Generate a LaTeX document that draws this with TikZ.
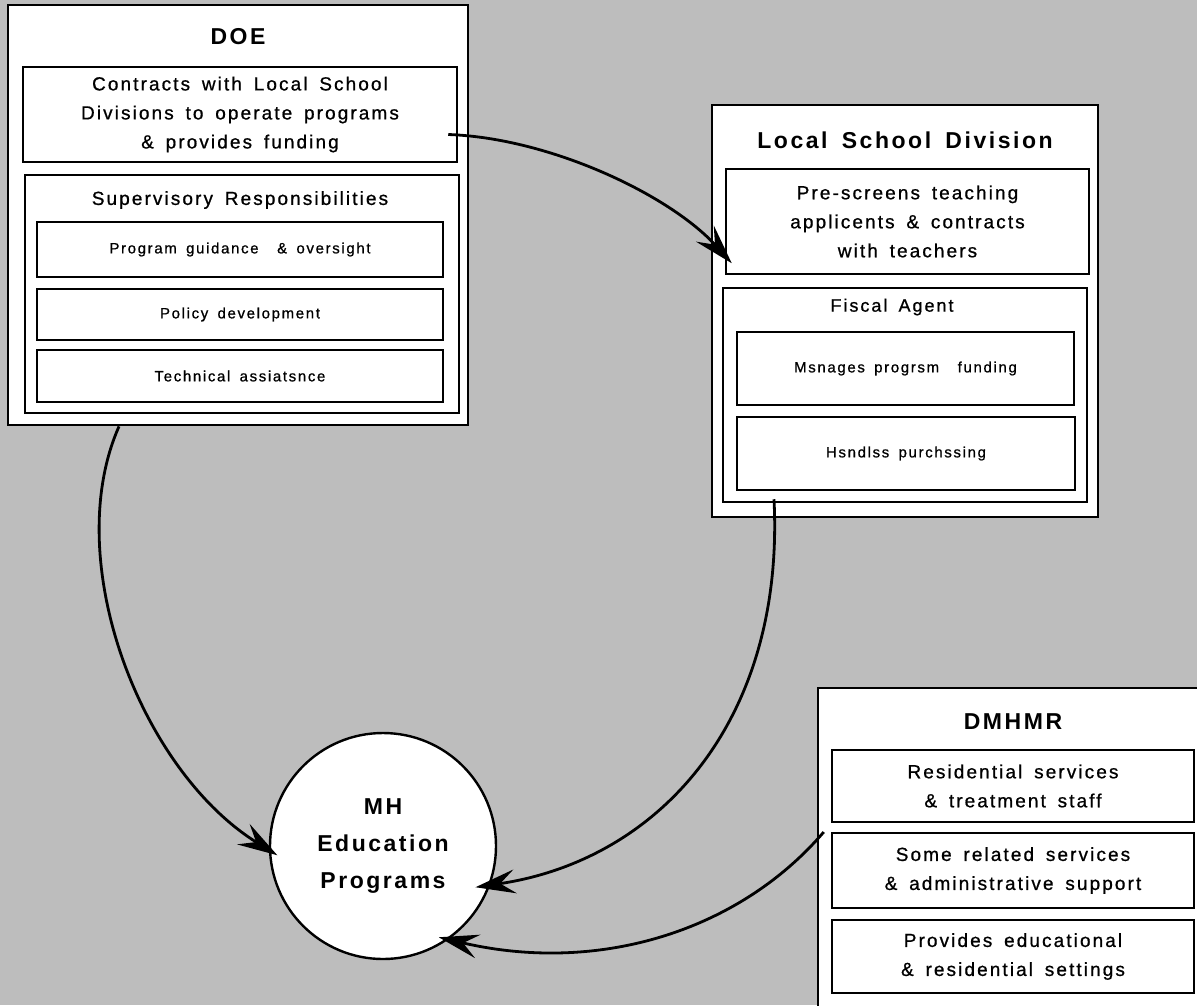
\documentclass[tikz,border=0pt]{standalone}
\usepackage{fontspec}
\setmainfont{Liberation Sans}[LetterSpace=11,WordSpace=1.6,UprightFeatures={FakeBold=0.8}]
\usetikzlibrary{arrows.meta}
\definecolor{halftone}{gray}{0.74}
\begin{document}
\begin{tikzpicture}[x=1pt,y=-1pt,
  box/.style={draw, fill=white, line width=2.5pt, inner sep=0pt, align=center},
  outer/.style={box, line width=2.8pt},
  ttl/.style={font=\bfseries\fontsize{23}{26}\selectfont, inner sep=0pt},
  mid/.style={font=\fontsize{19}{29}\selectfont},
  fisc/.style={font=\fontsize{18}{22}\selectfont, inner sep=0pt},
  sm/.style={font=\fontsize{15}{18}\selectfont},
  conn/.style={line width=2.8pt, -{Stealth[length=40pt,width=24pt,inset=15pt]}},
]
\fill[halftone] (0,0) rectangle (1197,1005);
\useasboundingbox (0,0) rectangle (1197,1005);
\clip (0,0) rectangle (1197,1005);

% DOE
\node[outer, minimum width=460pt, minimum height=420pt] (doe) at (238,215) {};
\node[ttl] (doeT) at (238,37) {DOE};
\node[box, mid, minimum width=434pt, minimum height=95pt] (doe_c) at (240,114.5) {Contracts with Local School\\Divisions to operate programs\\\& provides funding};
\node[box, minimum width=434pt, minimum height=238pt] (doe_s) at (242,294) {};
\node[mid, inner sep=0pt] (doe_sT) at (240,200) {Supervisory Responsibilities};
\node[box, sm, minimum width=406pt, minimum height=55pt] (doe_s1) at (240,249.5) {Program guidance \ \& oversight};
\node[box, sm, minimum width=406pt, minimum height=51pt] (doe_s2) at (240,314.5) {Policy development};
\node[box, sm, minimum width=406pt, minimum height=52pt] (doe_s3) at (240,376) {Technical assiatsnce};

% Local School Division
\node[outer, minimum width=386pt, minimum height=412pt] (lsd) at (905,311) {};
\node[ttl] (lsdT) at (905,140) {Local School Division};
\node[box, mid, minimum width=363pt, minimum height=105pt] (lsd_p) at (907.5,221.5) {Pre-screens teaching\\applicents \& contracts\\with teachers};
\node[box, minimum width=364pt, minimum height=214pt] (lsd_f) at (905,395) {};
\node[fisc] (lsd_fT) at (892,307) {Fiscal Agent};
\node[box, sm, minimum width=337pt, minimum height=73pt] (lsd_f1) at (905.5,368.5) {Msnages progrsm \ funding};
\node[box, sm, minimum width=338pt, minimum height=73pt] (lsd_f2) at (906,453.5) {Hsndlss purchssing};

% DMHMR
\node[outer, minimum width=397pt, minimum height=342pt] (dm) at (1016.5,859) {};
\node[ttl] (dmT) at (1013,722) {DMHMR};
\node[box, mid, minimum width=362pt, minimum height=72pt] (dm1) at (1013,786) {Residential services\\\& treatment staff};
\node[box, mid, minimum width=362pt, minimum height=75pt] (dm2) at (1013,870.5) {Some related services\\\& administrative support};
\node[box, mid, minimum width=362pt, minimum height=73pt] (dm3) at (1013,956.5) {Provides educational\\\& residential settings};

% circle
\node[draw, fill=white, circle, line width=2.4pt, minimum size=226pt, inner sep=0pt, align=center,
      font=\bfseries\fontsize{23}{37}\selectfont] (mh) at (383,846) {MH\\Education\\Programs};

% connectors
\draw[conn] ([shift={(-10pt,-20pt)}]doe_c.east) .. controls (550,138) and (670,195) .. ([shift={(7pt,12pt)}]lsd_p.south west);
\draw[conn, shorten >=-10pt] ([shift={(-119pt,0pt)}]doe.south) .. controls (60,560) and (140,770) .. (mh.182);
\draw[conn, shorten >=-15pt] ([shift={(-131pt,4pt)}]lsd_f.south) .. controls (785,720) and (660,860) .. (mh.-20);
\draw[conn, shorten >=-10pt] ([shift={(-7pt,38.5pt)}]dm2.west) .. controls (740,930) and (600,975) .. (mh.-55);
\end{tikzpicture}
\end{document}
